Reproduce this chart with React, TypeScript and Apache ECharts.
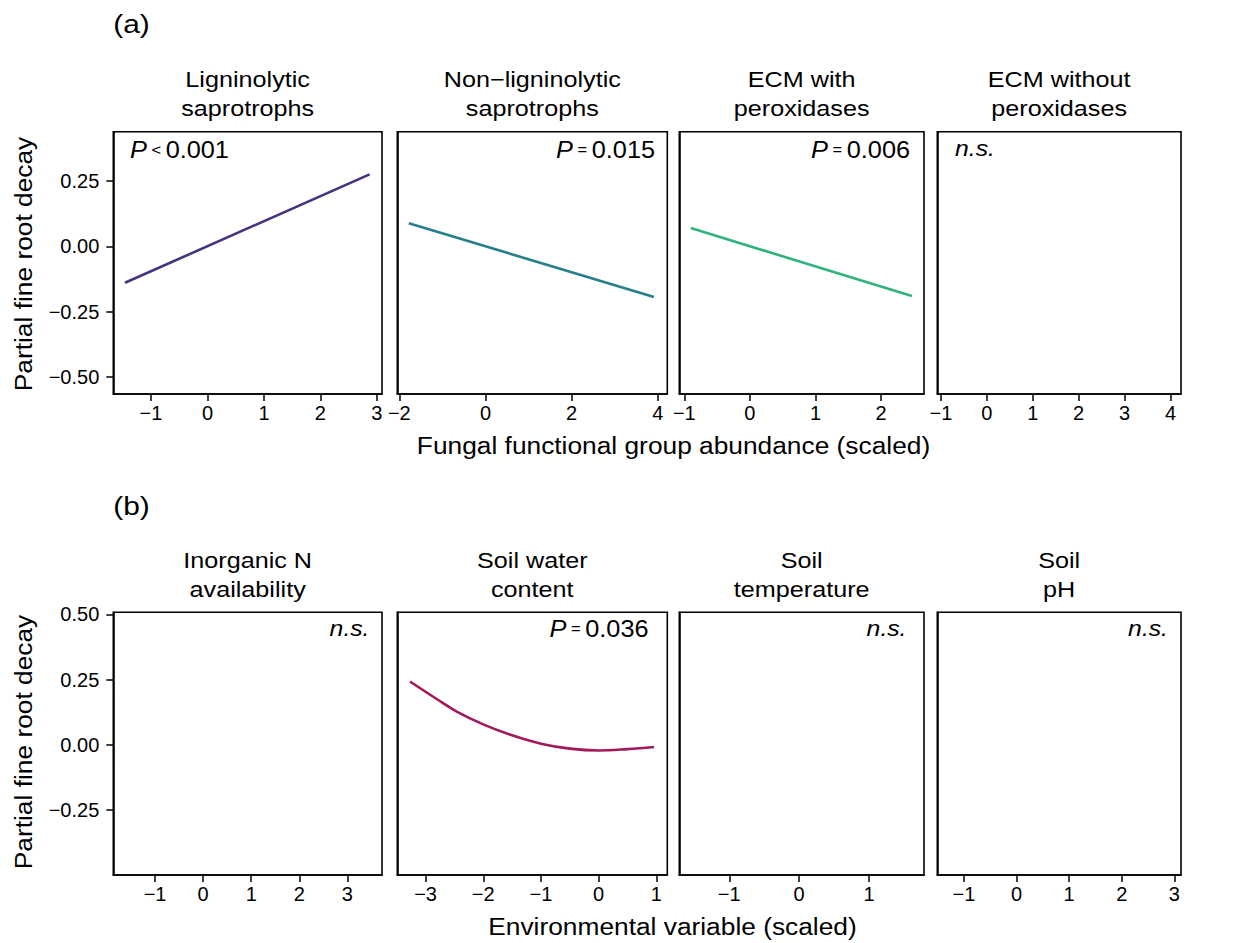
import React, { useEffect, useRef } from "react";
import * as echarts from "echarts";

// ---- data ----
const rowATitles = [
  ["Ligninolytic", "saprotrophs"],
  ["Non\u2212ligninolytic", "saprotrophs"],
  ["ECM with", "peroxidases"],
  ["ECM without", "peroxidases"],
];
const rowBTitles = [
  ["Inorganic N", "availability"],
  ["Soil water", "content"],
  ["Soil", "temperature"],
  ["Soil", "pH"],
];

// x-axis ranges per panel
const rowAXRange = [
  [-1.667, 3.09],
  [-2.047, 4.22],
  [-1.076, 2.655],
  [-1.08, 4.23],
];
const rowBXRange = [
  [-1.869, 3.72],
  [-3.49, 1.19],
  [-1.715, 1.787],
  [-1.507, 3.127],
];
const rowAYRange = [-0.564, 0.438];
const rowBYRange = [-0.498, 0.508];

const rowAXTicks = [
  [-1, 0, 1, 2, 3],
  [-2, 0, 2, 4],
  [-1, 0, 1, 2],
  [-1, 0, 1, 2, 3, 4],
];
const rowBXTicks = [
  [-1, 0, 1, 2, 3],
  [-3, -2, -1, 0, 1],
  [-1, 0, 1],
  [-1, 0, 1, 2, 3],
];
const rowAYTicks = [-0.5, -0.25, 0, 0.25];
const rowBYTicks = [-0.25, 0, 0.25, 0.5];

// fitted effects
const ligX = [-1.46, 2.87];
const ligY = [-0.139, 0.275];
const nonLigX = [-1.78, 3.91];
const nonLigY = [0.088, -0.193];
const ecmPerX = [-0.9, 2.47];
const ecmPerY = [0.07, -0.19];
const waterX = [-3.27, -2.8, -2.46, -2.0, -1.5, -1.0, -0.5, 0.0, 0.5, 0.96];
const waterY = [0.243, 0.175, 0.128, 0.079, 0.037, 0.005, -0.014, -0.021, -0.016, -0.008];

const lineColors = ["#46327E", "#277F8E", "#2DB37B", "#A3195B"];

const annotations = [
  { panel: 0, p: "<", v: "0.001" },
  { panel: 1, p: "=", v: "0.015" },
  { panel: 2, p: "=", v: "0.006" },
  { panel: 3, p: null, v: "n.s." },
  { panel: 4, p: null, v: "n.s." },
  { panel: 5, p: "=", v: "0.036" },
  { panel: 6, p: null, v: "n.s." },
  { panel: 7, p: null, v: "n.s." },
];

// ---- layout ----
const FONT = "'Liberation Sans', Arial, Helvetica, sans-serif";
const gridLefts = [113.3, 397.3, 679.3, 937.3];
const gridWidths = [268.7, 270, 244.7, 243.7];
const rowTops = [131.7, 612.3];
const rowHeights = [262.3, 262.7];
const SX = 1.12;

const annPos = [
  { x: 130, y: 149.5, align: "left" },
  { x: 655, y: 149.5, align: "right" },
  { x: 910, y: 149.5, align: "right" },
  { x: 955, y: 148.5, align: "left" },
  { x: 369.5, y: 628, align: "right" },
  { x: 648.5, y: 628.5, align: "right" },
  { x: 906.5, y: 628, align: "right" },
  { x: 1168, y: 628, align: "right" },
];

function fmtX(v: number) {
  return (v < 0 ? "\u2212" : "") + String(Math.abs(v));
}
function fmtY(v: number) {
  return (v < 0 ? "\u2212" : "") + Math.abs(v).toFixed(2);
}

function txt(text: string, x: number, y: number, size: number, align = "center", extra: any = {}, sx = SX) {
  return {
    type: "text",
    x,
    y,
    scaleX: sx,
    z: 10,
    ...extra,
    style: {
      text,
      fontSize: size,
      fontFamily: FONT,
      fill: "#000",
      align,
      textAlign: align,
      verticalAlign: "middle",
      textVerticalAlign: "middle",
    },
  };
}

export default function App() {
  const ref = useRef<HTMLDivElement>(null);
  useEffect(() => {
    document.body.style.margin = "0";
    if (!ref.current) return;
    const chart = echarts.init(ref.current, undefined, { renderer: "svg" });

    const grids: any[] = [];
    const xAxes: any[] = [];
    const yAxes: any[] = [];
    for (let r = 0; r < 2; r++) {
      for (let c = 0; c < 4; c++) {
        const i = r * 4 + c;
        grids.push({
          left: gridLefts[c],
          top: rowTops[r],
          width: gridWidths[c],
          height: rowHeights[r],
          show: true,
          borderColor: "#000",
          borderWidth: 1.6,
          backgroundColor: "#fff",
          containLabel: false,
        });
        const xr = r === 0 ? rowAXRange[c] : rowBXRange[c];
        const xt = r === 0 ? rowAXTicks[c] : rowBXTicks[c];
        xAxes.push({
          type: "value",
          gridIndex: i,
          position: "bottom",
          min: xr[0],
          max: xr[1],
          splitLine: { show: false },
          axisLine: { show: true, onZero: false, lineStyle: { color: "#000", width: 1.6 } },
          axisTick: {
            show: true,
            length: 7,
            inside: false,
            customValues: xt,
            lineStyle: { color: "#000", width: 1.5 },
          },
          axisLabel: {
            show: true,
            customValues: xt,
            formatter: fmtX,
            fontSize: 20,
            fontFamily: FONT,
            color: "#000",
            margin: 9,
            showMinLabel: true,
            showMaxLabel: true,
            hideOverlap: false,
          },
        });
        const yr = r === 0 ? rowAYRange : rowBYRange;
        const yt = r === 0 ? rowAYTicks : rowBYTicks;
        yAxes.push({
          type: "value",
          gridIndex: i,
          position: "left",
          min: yr[0],
          max: yr[1],
          splitLine: { show: false },
          axisLine: { show: true, onZero: false, lineStyle: { color: "#000", width: 1.6 } },
          axisTick: {
            show: c === 0,
            length: 7,
            customValues: yt,
            lineStyle: { color: "#000", width: 1.5 },
          },
          axisLabel: {
            show: c === 0,
            customValues: yt,
            formatter: fmtY,
            fontSize: 20,
            fontFamily: FONT,
            color: "#000",
            margin: 14,
          },
        });
      }
    }

    const mk = (xs: number[], ys: number[], idx: number, color: string, smooth: any = false) => ({
      type: "line",
      xAxisIndex: idx,
      yAxisIndex: idx,
      data: xs.map((x, k) => [x, ys[k]]),
      showSymbol: false,
      symbol: "none",
      smooth,
      lineStyle: { color, width: 2.6 },
      silent: true,
      z: 5,
    });

    const series = [
      mk(ligX, ligY, 0, lineColors[0]),
      mk(nonLigX, nonLigY, 1, lineColors[1]),
      mk(ecmPerX, ecmPerY, 2, lineColors[2]),
      mk(waterX, waterY, 5, lineColors[3], 0.4),
    ];

    const graphics: any[] = [];
    graphics.push(txt("(a)", 131.5, 24, 26, "center", {}, 1.15));
    graphics.push(txt("(b)", 131.5, 506, 26, "center", {}, 1.15));
    for (let c = 0; c < 4; c++) {
      const cx = gridLefts[c] + gridWidths[c] / 2;
      graphics.push(txt(rowATitles[c][0], cx, 79, 22.5));
      graphics.push(txt(rowATitles[c][1], cx, 107.5, 22.5));
      graphics.push(txt(rowBTitles[c][0], cx, 560, 22.5));
      graphics.push(txt(rowBTitles[c][1], cx, 589, 22.5));
    }
    graphics.push(txt("Fungal functional group abundance (scaled)", 673.5, 446, 23.5));
    graphics.push(txt("Environmental variable (scaled)", 672.5, 927, 23.5));
    graphics.push(txt("Partial fine root decay", 24, 264, 23.5, "center", { rotation: Math.PI / 2 }));
    graphics.push(txt("Partial fine root decay", 24, 742, 23.5, "center", { rotation: Math.PI / 2 }));

    annotations.forEach((a, k) => {
      const pos = annPos[k];
      if (a.p) {
        graphics.push({
          type: "text",
          x: pos.x,
          y: pos.y,
          scaleX: 1.1,
          z: 10,
          style: {
            text: "{i|P}{s| " + a.p + " }{n|" + a.v + "}",
            fontFamily: FONT,
            fontSize: 23,
            fill: "#000",
            align: pos.align,
            textAlign: pos.align,
            verticalAlign: "middle",
            textVerticalAlign: "middle",
            rich: {
              i: { fontStyle: "italic", fontSize: 23, fontFamily: FONT, fill: "#000" },
              s: { fontSize: 15, fontFamily: FONT, fill: "#000" },
              n: { fontSize: 23, fontFamily: FONT, fill: "#000" },
            },
          },
        });
      } else {
        graphics.push({
          type: "text",
          x: pos.x,
          y: pos.y,
          scaleX: 1.1,
          z: 10,
          style: {
            text: a.v,
            fontFamily: FONT,
            fontSize: 22.5,
            fontStyle: "italic",
            fill: "#000",
            align: pos.align,
            textAlign: pos.align,
            verticalAlign: "middle",
            textVerticalAlign: "middle",
          },
        });
      }
    });

    chart.setOption({
      animation: false,
      backgroundColor: "#fff",
      grid: grids,
      xAxis: xAxes,
      yAxis: yAxes,
      series,
      graphic: graphics,
    });
    return () => chart.dispose();
  }, []);
  return <div ref={ref} style={{ width: 1236, height: 943 }} />;
}
